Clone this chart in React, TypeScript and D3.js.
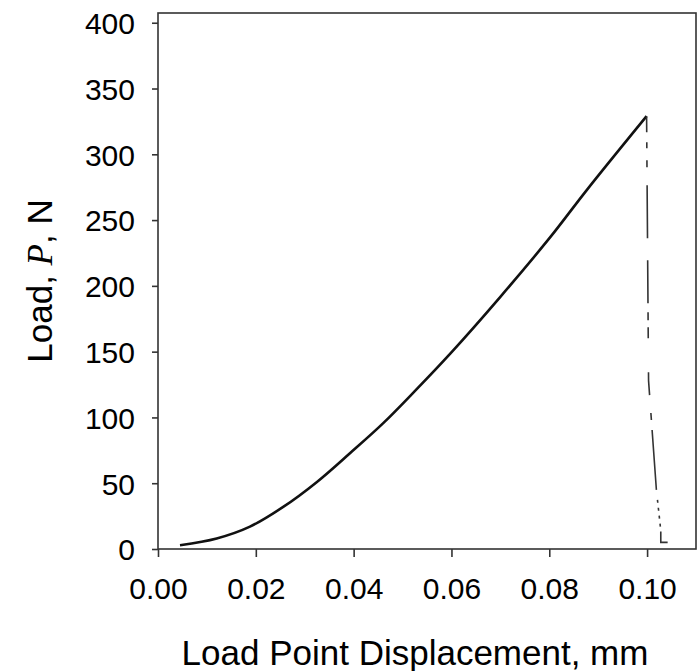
import { useEffect, useRef } from 'react';
import * as d3 from 'd3';

// loading branch (displacement mm, load N)
const loadDisp = [0.0045, 0.012, 0.0188, 0.0256, 0.0325, 0.0393, 0.046, 0.0525, 0.0598, 0.070, 0.0802, 0.0877, 0.0999];
const loadVals = [2.8, 8, 17, 32, 51, 73, 95.5, 120, 148.7, 191.7, 237, 273, 329];

// drop after failure (dashed)
const dropDisp = [0.0999, 0.1003, 0.1019, 0.1028, 0.1028, 0.1042];
const dropVals = [329, 128, 45, 14, 5, 5];

const xTicks = [0, 0.02, 0.04, 0.06, 0.08, 0.10];
const yTicks = [0, 50, 100, 150, 200, 250, 300, 350, 400];

const W = 700;
const H = 671;

function App() {
    const svgRef = useRef<SVGSVGElement>(null);

    useEffect(() => {
        const svg = d3.select(svgRef.current);
        svg.selectAll('*').remove();

        const left = 158, right = 696, top = 13, bottom = 549;
        const font = '"Liberation Sans", Arial, sans-serif';

        const x = d3.scaleLinear().domain([0, 0.110]).range([left, right]);
        const y = d3.scaleLinear().domain([0, 407.4]).range([bottom, top]);

        svg.append('rect').attr('width', W).attr('height', H).attr('fill', '#fff');

        // frame
        svg.append('rect')
            .attr('x', left).attr('y', top)
            .attr('width', right - left).attr('height', bottom - top)
            .attr('fill', 'none').attr('stroke', '#333').attr('stroke-width', 1.6);

        const xAxis = svg.append('g')
            .attr('transform', `translate(0, ${bottom})`)
            .call(d3.axisBottom(x).tickValues(xTicks).tickFormat(d3.format('.2f')).tickSize(8).tickSizeOuter(0));
        xAxis.select('.domain').remove();
        xAxis.selectAll('line').attr('stroke', '#333').attr('stroke-width', 1.6);
        xAxis.selectAll('text')
            .attr('font-family', font).attr('font-size', 30).attr('fill', '#000')
            .attr('y', 29).attr('dy', '0.71em');

        const yAxis = svg.append('g')
            .attr('transform', `translate(${left}, 0)`)
            .call(d3.axisLeft(y).tickValues(yTicks).tickSize(6).tickSizeOuter(0));
        yAxis.select('.domain').remove();
        yAxis.selectAll('line').attr('stroke', '#333').attr('stroke-width', 1.6);
        yAxis.selectAll('text')
            .attr('font-family', font).attr('font-size', 30).attr('fill', '#000')
            .attr('x', -23).attr('dy', '0.36em');

        const line = d3.line<number>()
            .x((d, i) => x(loadDisp[i]))
            .y(d => y(d))
            .curve(d3.curveCatmullRom.alpha(0.5));

        svg.append('path')
            .attr('d', line(loadVals))
            .attr('fill', 'none').attr('stroke', '#111').attr('stroke-width', 2.6)
            .attr('stroke-linejoin', 'round');

        const dropLine = d3.line<number>()
            .x((d, i) => x(dropDisp[i]))
            .y(d => y(d));

        // irregular dash pattern as seen in the scan
        svg.append('path')
            .attr('d', dropLine(dropVals))
            .attr('fill', 'none').attr('stroke', '#333').attr('stroke-width', 1.6)
            .attr('stroke-dasharray', '16,10,6,12,7,18,53,22,43,9,8,7,11,34,23,18,7,10,60,10,3,5,3,5,3,5,3,5,60');

        // axis titles
        svg.append('text')
            .attr('x', 415).attr('y', 665)
            .attr('text-anchor', 'middle')
            .attr('font-family', font).attr('font-size', 35)
            .text('Load Point Displacement, mm');

        const yt = svg.append('text')
            .attr('transform', `translate(52, ${(top + bottom) / 2}) rotate(-90)`)
            .attr('text-anchor', 'middle')
            .attr('font-family', font).attr('font-size', 35);
        yt.append('tspan').text('Load, ');
        yt.append('tspan').attr('font-family', '"Liberation Serif", "Times New Roman", serif').attr('font-style', 'italic').text('P');
        yt.append('tspan').text(', N');
    }, []);

    return (
        <svg ref={svgRef} width={W} height={H} style={{ position: 'absolute', left: 0, top: 0 }} />
    );
}

export default App;
